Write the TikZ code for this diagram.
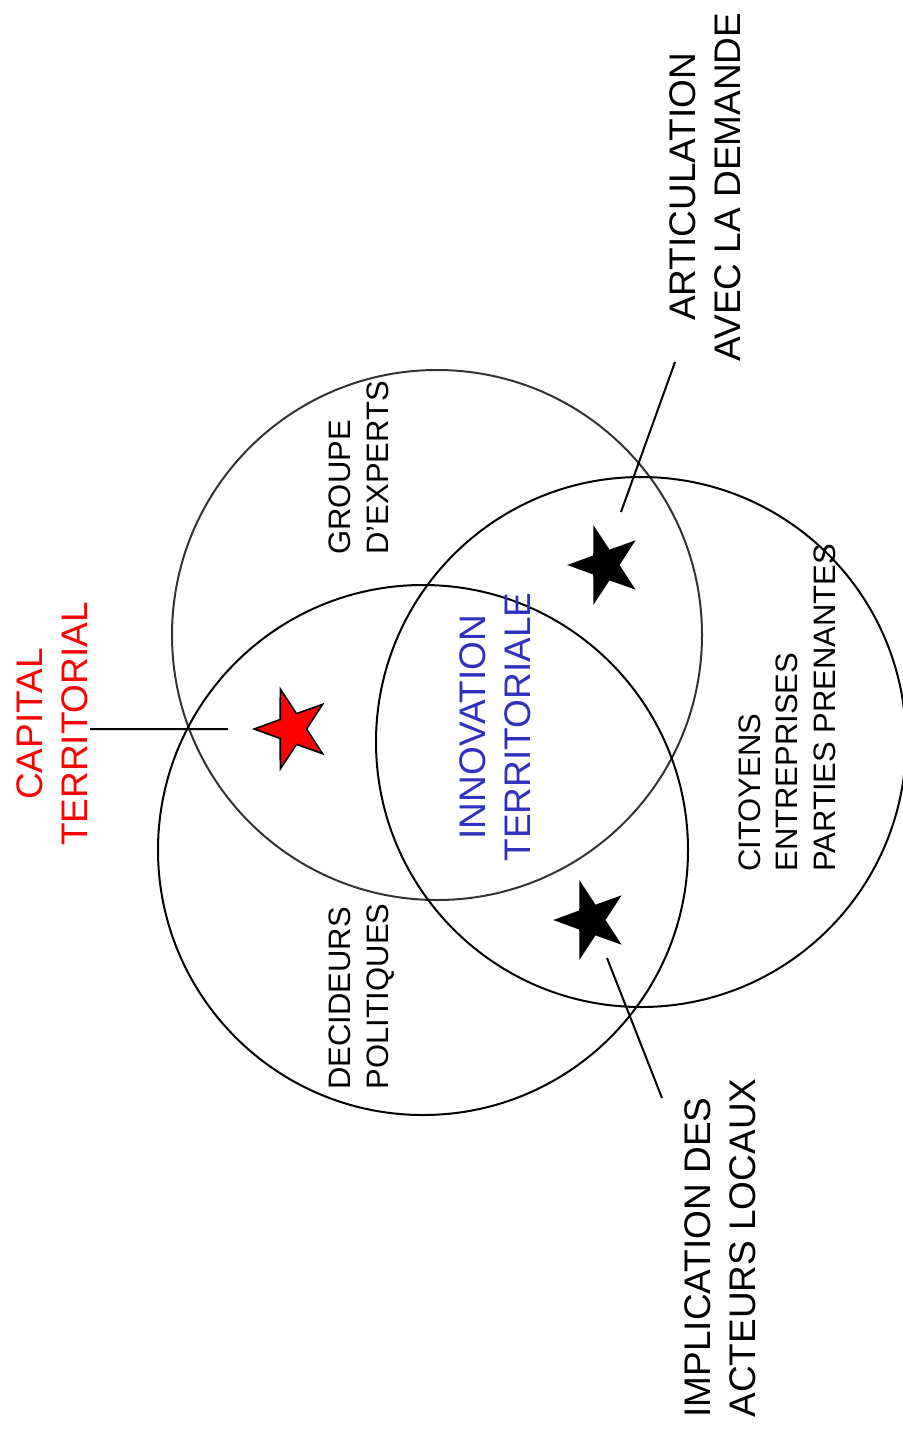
\documentclass[tikz,border=0pt]{standalone}
\usepackage{fontspec}
\setmainfont{Liberation Sans}
\usetikzlibrary{shapes.geometric}
\definecolor{innoblue}{RGB}{48,48,190}
\tikzset{
  ring/.style={line width=1pt},
  etoile/.style={star, star points=5, star point ratio=2.6, shape border rotate=90,
    minimum size=42pt, inner sep=0pt, xscale=0.9, line width=0.8pt},
  zone/.style={rotate=90, inner sep=0pt, align=left, anchor=base west,
    font=\fontsize{15.5}{18.75}\selectfont},
  lab/.style={rotate=90, inner sep=0pt, font=\fontsize{18.5}{22.5}\selectfont},
}
\begin{document}
\begin{tikzpicture}[x=0.5pt,y=-0.5pt]
\useasboundingbox (0,0) rectangle (903,1434);
% les trois cercles
\draw[ring,black!80] (437,635) circle[radius=265];
\draw[ring] (423,850) circle[radius=265];
\draw[ring] (641,742) circle[radius=265];
% zones
\node[zone] (experts) at (388,555) {GROUPE\\D'EXPERTS};
\node[zone] (decideurs) at (388,1090) {DECIDEURS\\POLITIQUES};
\node[zone] (citoyens) at (835,872) {CITOYENS\\ENTREPRISES\\PARTIES PRENANTES};
\node[lab,align=center,anchor=base,text=innoblue] (innovation) at (530,727) {INNOVATION\\TERRITORIALE};
% etoiles
\node[etoile,fill=red,draw=black] (srouge) at (292,729) {};
\node[etoile,fill=black] (shaut) at (605,565) {};
\node[etoile,fill=black] (sbas) at (591,920) {};
% etiquettes
\node[lab,align=center,anchor=base,text=red] (capital) at (87,724) {CAPITAL\\TERRITORIAL};
\node[lab,align=center,anchor=base] (articulation) at (740,187) {ARTICULATION\\AVEC LA DEMANDE};
\node[lab,align=left,anchor=base west] (implication) at (755,1418) {IMPLICATION DES\\ACTEURS LOCAUX};
\coordinate (c1) at (90,729);
\coordinate (c2) at (228,729);
\coordinate (a1) at (675,362);
\coordinate (a2) at (621,512);
\coordinate (i1) at (607,958);
\coordinate (i2) at (662,1098);
\draw[line width=1pt] (c1)--(c2) (a1)--(a2) (i1)--(i2);
\end{tikzpicture}
\end{document}
